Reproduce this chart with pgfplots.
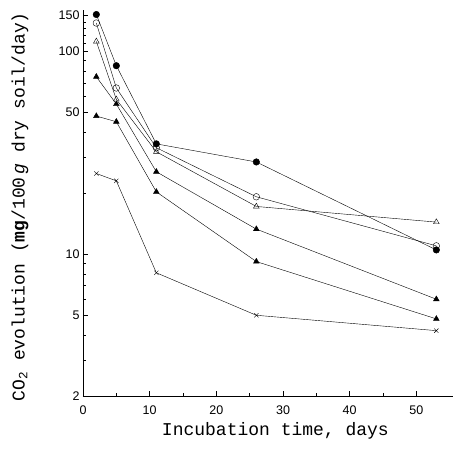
\documentclass[border=0pt]{standalone}
\usepackage{fontspec}
\usepackage{pgfplots}
\pgfplotsset{compat=1.18}
\newfontfamily\sansf{Liberation Sans}
\newfontfamily\monof{Liberation Mono}
\begin{document}
\begin{tikzpicture}
\useasboundingbox (-83pt,-64pt) rectangle (370pt,396pt);
\begin{axis}[
    scale only axis,
    width=370pt, height=386pt,
    ymode=log,
    xmin=0, xmax=55.5,
    ymin=2, ymax=160,
    axis x line=bottom, axis y line=left,
    axis line style={-, thin},
    tick align=inside,
    xtick={0,10,20,30,40,50},
    minor xtick={5,15,25,35,45},
    ytick={2,5,10,50,100,150},
    yticklabels={2,5,10,50,100,150},
    minor ytick={3,4,6,7,8,9,20,30,40,60,70,80,90,110,120,130,140},
    major tick length=5pt, minor tick length=3pt,
    tick style={black, thin},
    /pgf/number format/assume math mode=true,
    tick label style={font=\sansf\fontsize{12.5}{14}\selectfont},
    xticklabel style={yshift=-6pt},
    label style={font=\monof\fontsize{18}{20}\selectfont},
    xlabel={Incubation time, days},
    ylabel={CO\textsubscript{2} evolution (\textbf{mg}/100\,\textit{g} dry soil/day)},
    xlabel style={at={(axis description cs:0.52,-0.09)}, anchor=center},
    ylabel style={at={(axis description cs:-0.17,0.49)}, anchor=center},
    clip=false,
    every axis plot/.append style={black, thin, mark size=3.3pt},
]
% filled circles
\addplot[mark=*, mark options={fill=black}]
    coordinates {(2,152) (5,85) (11,35) (26,28.5) (53,10.5)};
% open circles
\addplot[mark=o, mark options={fill=white}]
    coordinates {(2,138) (5,66) (11,33.5) (26,19.2) (53,11)};
% open triangles
\addplot[mark=triangle, mark options={fill=white}]
    coordinates {(2,112) (5,58) (11,32) (26,17.2) (53,14.4)};
% triangles (lower set)
\addplot[mark=triangle*, mark options={fill=black}]
    coordinates {(2,75) (5,55) (11,25.5) (26,13.3) (53,6)};
% filled triangles
\addplot[mark=triangle*, mark options={fill=black}]
    coordinates {(2,48) (5,45) (11,20.3) (26,9.2) (53,4.8)};
% crosses
\addplot[mark=x, mark size=3pt]
    coordinates {(2,25) (5,23) (11,8.1) (26,5) (53,4.2)};
\end{axis}
\end{tikzpicture}
\end{document}
